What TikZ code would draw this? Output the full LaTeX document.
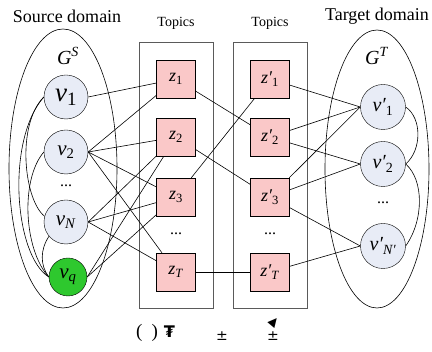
\documentclass[tikz,border=0pt]{standalone}
\usepackage{fontspec}
\setmainfont{Liberation Serif}
\newfontfamily\timesfam{Liberation Serif}
\newfontfamily\glyphfont{DejaVu Sans}
\definecolor{vfill}{RGB}{232,236,246}
\definecolor{zfill}{RGB}{250,200,200}
\definecolor{qfill}{RGB}{46,200,46}
\definecolor{framecol}{RGB}{90,90,90}
\newcommand\fs[1]{\timesfam\fontsize{#1}{#1}\selectfont}
\newcommand\prm{\char"2032}
\begin{document}
\begin{tikzpicture}[x=1pt,y=-1pt,
  vnode/.style={circle,draw,fill=vfill,minimum size=44pt,inner sep=0pt,font=\fs{21}},
  qnode/.style={circle,draw,fill=qfill,minimum size=38pt,inner sep=0pt,font=\fs{21}},
  znode/.style={rectangle,draw,fill=zfill,minimum width=39pt,minimum height=38pt,inner sep=0pt,font=\fs{18}},
  frame/.style={draw=framecol,line width=0.9pt},
  headline/.style={font=\fs{18}},
  topicline/.style={font=\fs{14}},
  dots/.style={font=\fs{16},inner sep=0pt},
  link/.style={draw=black,line width=0.6pt}]
\useasboundingbox (0,0) rectangle (432,352);

% domain ellipses
\draw[line width=0.6pt] (63,168.5) ellipse [x radius=54, y radius=139.5];
\draw[line width=0.6pt] (377,169) ellipse [x radius=52, y radius=139];

% topic frames
\draw[frame] (139,42) rectangle (213,308);
\draw[frame] (233,42) rectangle (307,308);

% headings
\node[headline] (srcT) at (67,16) {Source domain};
\node[headline] (tgtT) at (377,16) {Target domain};
\node[topicline] (top1) at (176,23) {Topics};
\node[topicline] (top2) at (270,23) {Topics};
\node[font=\fs{20}] (GS) at (68,56) {\textit{G}\textsuperscript{\textit{S}}};
\node[font=\fs{20}] (GT) at (377,56) {\textit{G}\textsuperscript{\textit{T}}};

% source nodes
\node[vnode,font=\fs{27}] (v1) at (66,97) {\textit{v}\textsubscript{1}};
\node[vnode] (v2) at (66,152) {\textit{v}\textsubscript{2}};
\node[dots] (vdots) at (66,186) {...};
\node[vnode] (vN) at (66,222) {\textit{v}\textsubscript{\textit{N}}};
\node[qnode] (vq) at (68,277) {\textit{v}\textsubscript{\textit{q}}};

% topic nodes
\node[znode] (z1) at (176,79) {\textit{z}\textsubscript{1}};
\node[znode] (z2) at (176,137) {\textit{z}\textsubscript{2}};
\node[znode] (z3) at (176,197) {\textit{z}\textsubscript{3}};
\node[dots] (zdots) at (176,234) {...};
\node[znode] (zT) at (176,272) {\textit{z}\textsubscript{\textit{T}}};

\node[znode] (zp1) at (270,79) {\textit{z\prm}\textsubscript{1}};
\node[znode] (zp2) at (270,137) {\textit{z\prm}\textsubscript{2}};
\node[znode] (zp3) at (270,197) {\textit{z\prm}\textsubscript{3}};
\node[dots] (zpdots) at (270,234) {...};
\node[znode] (zpT) at (270,272) {\textit{z\prm}\textsubscript{\textit{T}}};

% target nodes
\node[vnode,minimum size=45pt,font=\fs{20}] (vp1) at (383,107) {\textit{v\prm}\textsubscript{1}};
\node[vnode,minimum size=45pt,font=\fs{20}] (vp2) at (383,164) {\textit{v\prm}\textsubscript{2}};
\node[dots] (vpdots) at (383,203) {...};
\node[vnode,minimum size=45pt,font=\fs{20}] (vpN) at (383,246) {\textit{v\prm}\textsubscript{\textit{N\prm}}};

% links inside the source graph
\draw[link] (v1.west) .. controls (16,125) and (24,200) .. (vN.165);
\draw[link] (v1.west) .. controls (6,140) and (14,255) .. (vq.west);
\draw[link] (v2.west) .. controls (20,180) and (24,250) .. (vq.west);
\draw[link] (vN.220) .. controls (40,250) and (40,265) .. (vq.west);

% links inside the target graph
\draw[link] (vp1.east) .. controls (422,118) and (422,150) .. (vp2.east);
\draw[link] (vp2.east) .. controls (424,180) and (424,220) .. (vpN.east);

% source nodes to topics
\draw[link] (v1.east) -- (z1);
\draw[link] (v2.east) -- (z1);
\draw[link] (v2.east) -- (z2);
\draw[link] (v2.east) -- (z3);
\draw[link] (v2.east) -- (zT);
\draw[link] (vN.east) -- (z2);
\draw[link] (vN.east) -- (z3);
\draw[link] (vN.east) -- (zT);
\draw[link] (vq.east) -- (z2);
\draw[link] (vq.east) -- (z3);

% topic to topic
\draw[link] (z1) -- (zp2);
\draw[link] (z2) -- (zp3);
\draw[link] (z3) -- (zp1);
\draw[link] (zT) -- (zpT);

% topics to target nodes
\draw[link] (zp1) -- (vp1.west);
\draw[link] (zp2) -- (vp1.west);
\draw[link] (zp3) -- (vp1.west);
\draw[link] (zp2) -- (vp2.west);
\draw[link] (zp3) -- (vp2.west);
\draw[link] (zp3) -- (vpN.west);
\draw[link] (zpT) -- (vpN.west);

% caption glyphs
\node[font=\fs{19},anchor=west,inner sep=0pt] (cap1) at (136,333) {(\hspace{9pt})\hspace{6pt}{\glyphfont\bfseries\fontsize{16}{16}\selectfont ₮}};
\node[font=\fs{14},inner sep=0pt] (cap2) at (222,336) {\glyphfont ±};
\node[font=\fs{14},inner sep=0pt] (cap3) at (273,336) {\glyphfont ±};
\node[font=\fs{12},inner sep=0pt,rotate=-40] (cap4) at (274,322) {\glyphfont ▲};
\end{tikzpicture}
\end{document}
